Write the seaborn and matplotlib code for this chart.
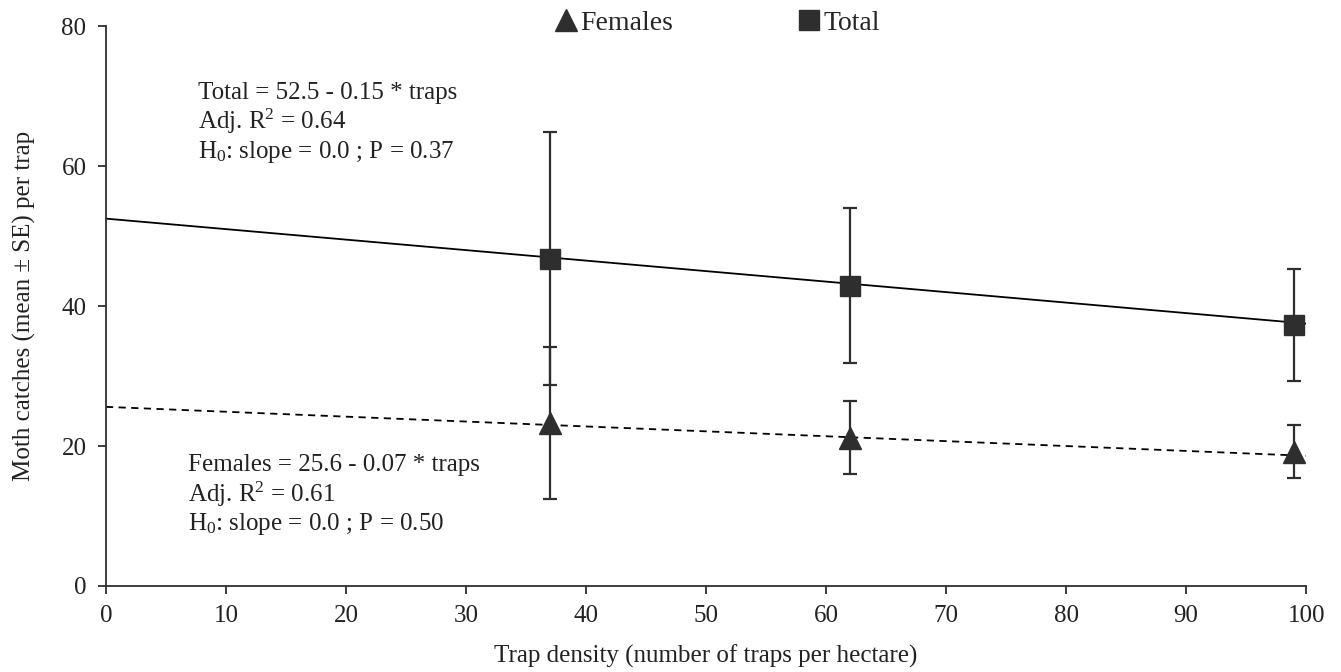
import numpy as np
import pandas as pd
import matplotlib
matplotlib.use("Agg")
import matplotlib.pyplot as plt
from matplotlib.lines import Line2D
import seaborn as sns

# ---------------- data ----------------
density = [37, 62, 99]
total_mean = [46.8, 42.9, 37.3]
total_se = [18.1, 11.1, 8.0]
female_mean = [23.3, 21.2, 19.2]
female_se = [10.9, 5.2, 3.8]

# regression lines: intercept, slope
total_fit = (52.5, -0.15)
female_fit = (25.6, -0.07)
fit_x = [0, 100]

dark = "#2e2e2e"

sns.set_style("ticks")
plt.rcParams["font.family"] = ["Liberation Serif", "DejaVu Serif"]
plt.rcParams["mathtext.fontset"] = "custom"
plt.rcParams["mathtext.rm"] = "Liberation Serif"
plt.rcParams["mathtext.default"] = "regular"

fig = plt.figure(figsize=(13.41, 6.72), dpi=100)
ax = fig.add_axes([0.079, 0.128, 0.895, 0.833])

# regression lines
fits = pd.DataFrame({
    "x": fit_x * 2,
    "y": [total_fit[0] + total_fit[1] * x for x in fit_x]
         + [female_fit[0] + female_fit[1] * x for x in fit_x],
    "grp": ["Total"] * 2 + ["Females"] * 2,
})
sns.lineplot(data=fits[fits.grp == "Total"], x="x", y="y", ax=ax,
             color="black", lw=1.3, linestyle="-")
sns.lineplot(data=fits[fits.grp == "Females"], x="x", y="y", ax=ax,
             color="black", lw=1.3, linestyle=(0, (4, 3)))

# means +- SE
ax.errorbar(density, total_mean, yerr=total_se, fmt="s", ms=15, color=dark,
            ecolor=dark, elinewidth=1.6, capsize=5, capthick=1.6, zorder=3)
ax.errorbar(density, female_mean, yerr=female_se, fmt="^", ms=16, color=dark,
            ecolor=dark, elinewidth=1.6, capsize=5, capthick=1.6, zorder=3)

ax.set_xlim(0, 100)
ax.set_ylim(0, 80)
ax.set_xticks(range(0, 101, 10))
ax.set_yticks(range(0, 81, 20))
sns.despine(ax=ax)
for s in ["left", "bottom"]:
    ax.spines[s].set_linewidth(1.3)
    ax.spines[s].set_color(dark)
ax.tick_params(labelsize=18, length=6, width=1.3, color=dark, pad=8,
               labelcolor="#222222")

ax.set_xlabel("Trap density (number of traps per hectare)", fontsize=18,
              labelpad=12, color="#222222")
ax.set_ylabel("Moth catches (mean ± SE) per trap", fontsize=18,
              labelpad=18, color="#222222")

# annotations
ax.text(7.7, 66.1, "Total = 52.5 - 0.15 * traps\nAdj. R$^2$ = 0.64\n"
        "H$_0$: slope = 0.0 ; P = 0.37", fontsize=18, va="center",
        ha="left", linespacing=1.15, color="#222222")
ax.text(6.8, 12.9, "Females = 25.6 - 0.07 * traps\nAdj. R$^2$ = 0.61\n"
        "H$_0$: slope = 0.0 ; P = 0.50", fontsize=18, va="center",
        ha="left", linespacing=1.15, color="#222222")

handles = [Line2D([], [], marker="^", ls="none", color=dark, ms=16),
           Line2D([], [], marker="s", ls="none", color=dark, ms=15)]
fig.legend(handles, ["Females", "Total"], loc="center",
           bbox_to_anchor=(0.535, 0.966), ncol=2, frameon=False,
           fontsize=20, handlelength=0.8, handletextpad=0.1,
           columnspacing=4.5)

fig.savefig("out.png", dpi=100)
